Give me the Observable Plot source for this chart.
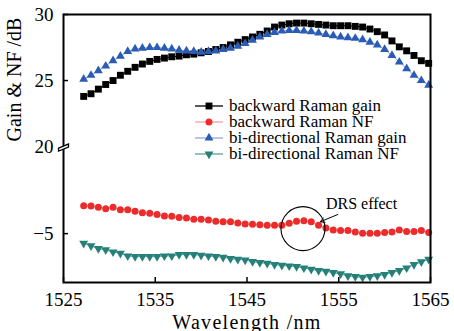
<!DOCTYPE html>
<html><head><meta charset="utf-8">
<script src="https://cdn.jsdelivr.net/npm/d3@7"></script>
<script src="https://cdn.jsdelivr.net/npm/@observablehq/plot@0.6"></script>
<style>
body{margin:0;background:#fff;}
#wrap{position:relative;width:454px;height:331px;overflow:hidden;font-family:"Liberation Serif","Times New Roman",Tinos,"DejaVu Serif",serif;}
#wrap svg text{font-family:"Liberation Serif","Times New Roman",Tinos,"DejaVu Serif",serif;}
#legend{position:absolute;left:195px;top:98px;font-size:17px;line-height:16px;color:#000;}
.row{display:flex;align-items:center;height:15.9px;white-space:nowrap;}
.row svg{width:28px;height:16px;margin-right:6px;flex:none;}
</style></head>
<body><div id="wrap"><div id="legend"></div></div>
<script>
// ---- data ----
const wavelengths = [1527.2,1528.0,1528.8,1529.6,1530.4,1531.2,1532.0,1532.8,1533.6,1534.4,1535.2,1536.0,1536.8,1537.6,1538.4,1539.2,1540.0,1540.8,1541.6,1542.4,1543.2,1544.0,1544.8,1545.6,1546.4,1547.2,1548.0,1548.8,1549.6,1550.4,1551.2,1552.0,1552.8,1553.6,1554.4,1555.2,1556.0,1556.8,1557.6,1558.4,1559.2,1560.0,1560.8,1561.6,1562.4,1563.2,1564.0,1564.8];
const backwardGain = [23.8,24.0,24.35,24.7,25.0,25.4,25.7,26.0,26.25,26.45,26.6,26.7,26.8,26.85,26.95,27.0,27.1,27.2,27.35,27.5,27.7,27.9,28.1,28.3,28.5,28.75,29.05,29.2,29.3,29.35,29.35,29.3,29.25,29.2,29.15,29.15,29.15,29.1,29.05,28.9,28.7,28.45,28.0,27.55,27.25,26.9,26.5,26.3];
const backwardNF = [-2.88,-2.9,-3.01,-3.11,-3.01,-3.2,-3.2,-3.31,-3.41,-3.46,-3.56,-3.66,-3.69,-3.77,-3.81,-3.92,-3.92,-3.96,-4.07,-4.11,-4.11,-4.19,-4.27,-4.29,-4.32,-4.37,-4.37,-4.37,-4.22,-4.07,-4.02,-4.11,-4.37,-4.57,-4.72,-4.77,-4.77,-4.87,-4.98,-4.98,-4.98,-4.92,-4.87,-4.72,-4.83,-4.83,-4.77,-4.92];
const biGain = [25.1,25.4,25.75,26.1,26.5,26.85,27.2,27.4,27.45,27.5,27.5,27.45,27.4,27.3,27.25,27.2,27.15,27.2,27.25,27.35,27.45,27.6,27.8,28.05,28.3,28.5,28.65,28.75,28.8,28.8,28.75,28.7,28.6,28.5,28.4,28.3,28.25,28.2,28.1,27.9,27.7,27.35,26.9,26.4,25.9,25.4,25.0,24.65];
const biNF = [-5.73,-5.93,-6.14,-6.23,-6.39,-6.49,-6.69,-6.74,-6.74,-6.74,-6.74,-6.69,-6.69,-6.59,-6.59,-6.59,-6.64,-6.69,-6.74,-6.79,-6.89,-6.95,-7.0,-7.12,-7.2,-7.25,-7.35,-7.4,-7.45,-7.5,-7.6,-7.7,-7.8,-7.85,-7.95,-8.05,-8.2,-8.26,-8.31,-8.26,-8.2,-8.1,-7.95,-7.8,-7.6,-7.35,-7.14,-6.95];

const seriesNames = ["backward Raman gain","backward Raman NF","bi-directional Raman gain","bi-directional Raman NF"];
const markerColors = ["#000000","#ee2b2b","#2a5bb5","#26807a"];
const lineColors = ["#000000","#f5a3a3","#90a8da","#5e9e99"];

const xTicks = [1525,1535,1545,1555,1565];
const gainTicks = [30,25,20];
const nfTicks = [-5];
const xDomain = [1525,1565];
const gainTop = 30;
const nfBottom = -8.7;
const nfOffset = 18.41;   // axis break: NF values are drawn on the lower segment
const breakAt = 20;

const annotationText = ["DRS effect"];
const annotationCircle = [{x:1551.1, y:-4.62}];
const annotationLabel = [{x:1553.6, y:-2.73}];
const annotationArrow = [{x1:1554.9, y1:-3.55, x2:1553.0, y2:-4.1}];

const FONT = '"Liberation Serif","Times New Roman",Tinos,"DejaVu Serif",serif';

// ---- build ----
const rows = [];
wavelengths.forEach((w,i)=>{
  rows.push({s:0, x:w, v:backwardGain[i]});
  rows.push({s:1, x:w, v:backwardNF[i]+nfOffset});
  rows.push({s:2, x:w, v:biGain[i]});
  rows.push({s:3, x:w, v:biNF[i]+nfOffset});
});

const triangleDown = {draw(ctx,size){const y=-Math.sqrt(size/(Math.sqrt(3)*3));ctx.moveTo(0,-y*2);ctx.lineTo(-Math.sqrt(3)*y,y);ctx.lineTo(Math.sqrt(3)*y,y);ctx.closePath();}};
const breakSymbol = {draw(ctx){ctx.moveTo(-5,1.5);ctx.lineTo(5,-2.5);ctx.lineTo(5,0.5);ctx.lineTo(-5,4.5);ctx.closePath();}};
const symbols = ["square","circle","triangle",triangleDown];
const radii = [3.9,3.5,3.3,3.3];

const yTickVals = [...gainTicks, ...nfTicks.map(v=>v+nfOffset)];
const yTickLabel = new Map([...gainTicks.map(v=>[v,String(v)]), ...nfTicks.map(v=>[v+nfOffset,"\u2212"+Math.abs(v)])]);

const marks = [];
for (let s=0;s<4;s++){
  const d = rows.filter(r=>r.s===s);
  marks.push(Plot.line(d,{x:"x",y:"v",stroke:lineColors[s],strokeWidth:1}));
}
for (let s=0;s<4;s++){
  const d = rows.filter(r=>r.s===s);
  marks.push(Plot.dot(d,{x:"x",y:"v",symbol:symbols[s],r:radii[s],fill:markerColors[s],stroke:"none"}));
}
marks.push(
  Plot.frame({stroke:"#000",strokeWidth:2}),
  Plot.axisX({ticks:xTicks,tickSize:-5,tickPadding:15,tickFormat:d=>String(d),label:null,strokeWidth:1.5}),
  Plot.axisY({ticks:yTickVals,tickSize:-5,tickPadding:15,tickFormat:d=>yTickLabel.get(d),label:null,strokeWidth:1.5}),
  Plot.dot([breakAt],{x:()=>xDomain[0],y:d=>d,symbol:breakSymbol,fill:"#fff",stroke:"#000",strokeWidth:1.3}),
  Plot.dot(annotationCircle,{x:"x",y:d=>d.y+nfOffset,r:22,fill:"none",stroke:"#000",strokeWidth:1.1}),
  Plot.arrow(annotationArrow,{x1:"x1",y1:d=>d.y1+nfOffset,x2:"x2",y2:d=>d.y2+nfOffset,stroke:"#000",strokeWidth:1,headLength:7}),
  Plot.text(annotationLabel,{x:"x",y:d=>d.y+nfOffset,text:()=>annotationText[0],textAnchor:"start",fontSize:16}),
  Plot.text(["Gain & NF /dB"],{frameAnchor:"left",rotate:-90,dx:-49,dy:-7,fontSize:20}),
  Plot.text(["Wavelength /nm"],{frameAnchor:"bottom",dy:46,fontSize:20})
);

const chart = Plot.plot({
  width:454, height:331,
  marginLeft:63, marginRight:24, marginTop:14, marginBottom:49,
  style:{fontFamily:FONT,fontSize:"19px",color:"#000",background:"#fff",overflow:"visible"},
  x:{domain:xDomain},
  y:{domain:[nfBottom+nfOffset,gainTop]},
  marks
});
document.getElementById("wrap").prepend(chart);
d3.select(chart).selectAll("text").style("font-family",FONT);
d3.select(chart).selectAll("text").filter(function(){return this.textContent==="Wavelength /nm";}).style("letter-spacing","1.3px");

// legend
const legend = d3.select("#legend");
seriesNames.forEach((name,s)=>{
  const row = legend.append("div").attr("class","row");
  const svg = row.append("svg").attr("viewBox","0 0 28 16");
  svg.append("line").attr("x1",0).attr("x2",28).attr("y1",8).attr("y2",8).attr("stroke",lineColors[s]).attr("stroke-width",1.3);
  const d3sym = [d3.symbolSquare,d3.symbolCircle,d3.symbolTriangle,triangleDown][s];
  svg.append("path").attr("transform","translate(14,8)").attr("d",d3.symbol(d3sym, Math.PI*radii[s]*radii[s])()).attr("fill",markerColors[s]);
  row.append("span").text(name).style("font-family",FONT);
});
</script>
</body></html>
